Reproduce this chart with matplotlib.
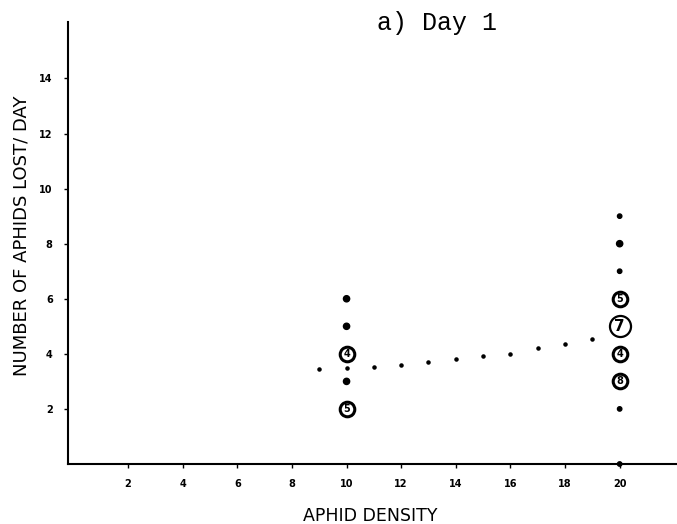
import numpy as np
import matplotlib.pyplot as plt

# Day 1 observations: aphids lost per day at two densities
dot_x = [10, 10, 10, 20, 20, 20, 20, 20]
dot_y = [6, 5, 3, 9, 8, 7, 2, 0]
dot_big = [True, True, True, False, True, False, False, False]

# Coincident observations, circled with the number of replicates
ring_x = [10, 10, 20, 20, 20, 20]
ring_y = [4, 2, 6, 5, 4, 3]
ring_n = ["4", "5", "5", "7", "4", "8"]

# Fitted response curve (dotted)
fit_x = [9, 10, 11, 12, 13, 14, 15, 16, 17, 18, 19]
fit_y = [3.45, 3.47, 3.53, 3.61, 3.69, 3.80, 3.91, 4.01, 4.20, 4.37, 4.53]

x_ticks = [2, 4, 6, 8, 10, 12, 14, 16, 18, 20]
y_ticks = [2, 4, 6, 8, 10, 12, 14]

fig = plt.figure(figsize=(6.77, 5.24), dpi=100)
ax = fig.add_axes([68 / 677, 60 / 524, 1 - 68 / 677, 442 / 524])

ax.scatter(fit_x, fit_y, s=5, color="black", zorder=2)

sizes = [20 if b else 10 for b in dot_big]
ax.scatter(dot_x, dot_y, s=sizes, color="black", zorder=3, clip_on=False)

for x, y, n in zip(ring_x, ring_y, ring_n):
    big = n == "7"
    ax.scatter([x], [y], s=230 if big else 110, facecolor="white",
               edgecolor="black", linewidth=1.6 if big else 2.2, zorder=4)
    ax.text(x, y, n, ha="center", va="center", zorder=5,
            fontsize=11 if big else 7, fontweight="bold")

ax.set_xlim(-0.2, 22.1)
ax.set_ylim(0, 16.05)
ax.set_xticks(x_ticks)
ax.set_yticks(y_ticks)
ax.tick_params(direction="out", length=3, width=1, labelsize=7, pad=8)
for lbl in ax.get_xticklabels() + ax.get_yticklabels():
    lbl.set_fontweight("bold")

for side in ["top", "right"]:
    ax.spines[side].set_visible(False)
for side in ["left", "bottom"]:
    ax.spines[side].set_linewidth(1.5)

ax.set_xlabel("APHID DENSITY", fontsize=12.5)
ax.set_ylabel("NUMBER OF APHIDS LOST/ DAY", fontsize=13)
ax.xaxis.set_label_coords(0.496, -0.097)
ax.yaxis.set_label_coords(-0.062, 0.516)

fig.text(437 / 677, 1 - 30 / 524, "a) Day 1", family="Liberation Mono",
         fontsize=18, ha="center", va="baseline")

fig.savefig("out.png", dpi=100)
